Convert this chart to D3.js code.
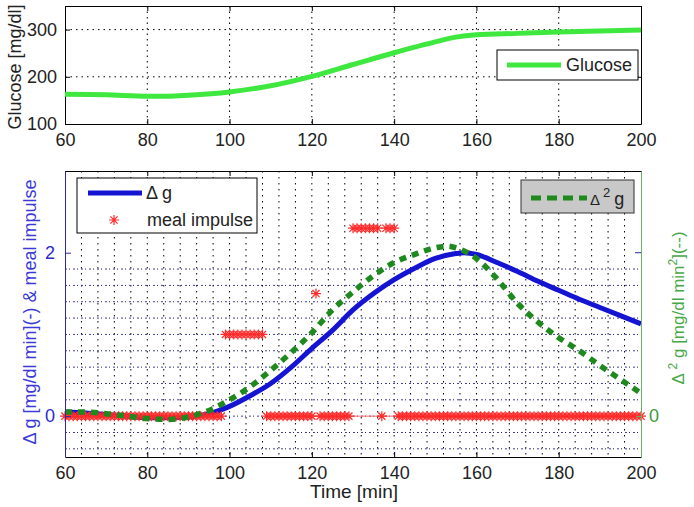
<!DOCTYPE html>
<html><head><meta charset="utf-8">
<script src="https://cdn.jsdelivr.net/npm/d3@7"></script>
<style>
html,body{margin:0;padding:0;background:#fff;}
svg{display:block;font-family:"Liberation Sans",Arial,Helvetica,sans-serif;}
</style></head>
<body>
<svg id="chart" width="694" height="507"></svg>
<script>
// ---- data ----
const glucoseTime  = [60,70,80,85,90,100,110,120,130,140,150,155,160,170,180,190,200];
const glucoseValue = [163,162,159,159,161,168,181,201,226,251,274,284,289,292,295,297,299];

const dgTime  = [60,65,70,75,80,85,90,95,100,105,110,115,120,125,130,135,140,145,150,155,157,160,165,170,175,180,185,190,195,200];
const dgValue = [0.05,0.04,0.02,0.0,-0.02,-0.02,-0.01,0.03,0.12,0.25,0.40,0.60,0.83,1.05,1.30,1.50,1.67,1.81,1.93,1.99,2.0,1.98,1.88,1.77,1.65,1.54,1.43,1.33,1.23,1.13];

const d2gTime  = [60,65,70,75,80,85,90,95,100,105,110,115,120,125,130,135,140,145,150,153,155,160,165,170,175,180,185,190,195,200];
const d2gValue = [0.05,0.05,0.03,0.0,-0.03,-0.04,-0.01,0.07,0.20,0.36,0.56,0.78,1.02,1.30,1.52,1.72,1.88,1.98,2.06,2.08,2.06,1.93,1.68,1.38,1.15,0.96,0.80,0.62,0.45,0.28];

// meal impulse: [from minute, to minute, value], one sample per minute
const mealSegments = [[60,98,0],[99,108,1.0],[109,120,0],[121,121,1.5],[122,129,0],[130,136,2.3],[137,137,0],[138,140,2.3],[141,200,0]];
// span of thin red zero trace
const mealTraceSpan = [120,200];

const xTicks = [60,80,100,120,140,160,180,200];
const topYTicks = [100,200,300];
const leftYTicks = [0,2];
const rightYTicks = [0];

// ---- build ----
const svg = d3.select("#chart");
const L = 65, R = 641;
const top1 = 6, bot1 = 124;
const top2 = 171, bot2 = 457;
const txt = "#222";
const fmt = d3.format("d");

const x = d3.scaleLinear().domain([60,200]).range([L,R]);
const yG = d3.scaleLinear().domain([100,350]).range([bot1,top1]);
const yB = d3.scaleLinear().domain([-0.5,3]).range([bot2,top2]);

// ===== TOP PLOT =====
const g1 = svg.append("g");
g1.selectAll(".vg").data(xTicks.filter(d=>d>60&&d<200)).join("line")
  .attr("x1",d=>x(d)).attr("x2",d=>x(d)).attr("y1",top1).attr("y2",bot1)
  .attr("stroke","#000").attr("stroke-width",1).attr("stroke-dasharray","1.5,4");
g1.selectAll(".hg").data([200,300]).join("line")
  .attr("x1",L).attr("x2",R).attr("y1",d=>yG(d)).attr("y2",d=>yG(d))
  .attr("stroke","#000").attr("stroke-width",1).attr("stroke-dasharray","1.5,4");
g1.append("g").attr("transform",`translate(0,${bot1})`)
  .call(d3.axisBottom(x).tickValues(xTicks).tickSizeInner(-5).tickSizeOuter(0).tickPadding(9).tickFormat(fmt))
  .call(a=>{a.select(".domain").attr("stroke","#000");a.selectAll("text").attr("font-size",18).attr("fill",txt);});
g1.append("g").attr("transform",`translate(0,${top1})`)
  .call(d3.axisTop(x).tickValues(xTicks).tickSizeInner(-5).tickSizeOuter(0).tickFormat(""))
  .call(a=>a.select(".domain").attr("stroke","#000"));
g1.append("g").attr("transform",`translate(${L},0)`)
  .call(d3.axisLeft(yG).tickValues(topYTicks).tickSizeInner(-5).tickSizeOuter(0).tickPadding(8).tickFormat(fmt))
  .call(a=>{a.select(".domain").attr("stroke","#000");a.selectAll("text").attr("font-size",18).attr("fill",txt);});
g1.append("g").attr("transform",`translate(${R},0)`)
  .call(d3.axisRight(yG).tickValues(topYTicks).tickSizeInner(-5).tickSizeOuter(0).tickFormat(""))
  .call(a=>a.select(".domain").attr("stroke","#000"));
g1.append("path").datum(glucoseTime.map((t,i)=>[t,glucoseValue[i]]))
  .attr("d",d3.line().x(d=>x(d[0])).y(d=>yG(d[1])).curve(d3.curveMonotoneX))
  .attr("fill","none").attr("stroke","#3ee83e").attr("stroke-width",5);
g1.append("text").attr("transform",`translate(21,${(top1+bot1)/2+2}) rotate(-90)`)
  .attr("text-anchor","middle").attr("font-size",18).attr("fill",txt).text("Glucose [mg/dl]");
const lg1 = g1.append("g");
lg1.append("rect").attr("x",497).attr("y",50).attr("width",141).attr("height",30).attr("fill","#fff").attr("stroke","#000");
lg1.append("line").attr("x1",507).attr("x2",561).attr("y1",65).attr("y2",65).attr("stroke","#3ee83e").attr("stroke-width",5);
lg1.append("text").attr("x",566).attr("y",71).attr("font-size",18).attr("fill",txt).text("Glucose");

// ===== BOTTOM PLOT =====
const g2 = svg.append("g");
const vgrid = d3.range(64,200,4);
g2.selectAll(".vg").data(vgrid).join("line")
  .attr("x1",d=>x(d)).attr("x2",d=>x(d)).attr("y1",top2).attr("y2",bot2)
  .attr("stroke","#000").attr("stroke-width",1).attr("stroke-dasharray","1.5,4.5");
const hgrid = d3.range(-0.4,1.81,0.2);
g2.selectAll(".hgb").data(hgrid).join("line")
  .attr("x1",L).attr("x2",R).attr("y1",d=>yB(d)).attr("y2",d=>yB(d))
  .attr("stroke","#3a3ab8").attr("stroke-width",1).attr("stroke-dasharray","2,6");
g2.selectAll(".hgk").data(hgrid).join("line")
  .attr("x1",L).attr("x2",R).attr("y1",d=>yB(d)).attr("y2",d=>yB(d))
  .attr("stroke","#222").attr("stroke-width",1).attr("stroke-dasharray","1,7").attr("stroke-dashoffset",-4);

g2.append("path").datum(dgTime.map((t,i)=>[t,dgValue[i]]))
  .attr("d",d3.line().x(d=>x(d[0])).y(d=>yB(d[1])).curve(d3.curveMonotoneX))
  .attr("fill","none").attr("stroke","#1414d2").attr("stroke-width",5);

const meal = [];
mealSegments.forEach(([a,b,v])=>{ for(let t=a;t<=b;t++) meal.push([t,v]); });
g2.append("line").attr("x1",x(mealTraceSpan[0])).attr("x2",x(mealTraceSpan[1])).attr("y1",yB(0)).attr("y2",yB(0))
  .attr("stroke","#ff6a6a").attr("stroke-width",1);
const star = r => { const k=r*0.72; return `M${-r},0L${r},0M0,${-r}L0,${r}M${-k},${-k}L${k},${k}M${-k},${k}L${k},${-k}`; };
g2.selectAll(".meal").data(meal).join("path")
  .attr("transform",d=>`translate(${x(d[0])},${yB(d[1])})`)
  .attr("d",star(5)).attr("fill","none").attr("stroke","#ff2a2a").attr("stroke-width",1.2);

g2.append("path").datum(d2gTime.map((t,i)=>[t,d2gValue[i]]))
  .attr("d",d3.line().x(d=>x(d[0])).y(d=>yB(d[1])).curve(d3.curveMonotoneX))
  .attr("fill","none").attr("stroke","#1e8a1e").attr("stroke-width",5.5).attr("stroke-dasharray","7,6");

g2.append("g").attr("transform",`translate(0,${bot2})`)
  .call(d3.axisBottom(x).tickValues(xTicks).tickSizeInner(-5).tickSizeOuter(0).tickPadding(9).tickFormat(fmt))
  .call(a=>{a.select(".domain").attr("stroke","#000");a.selectAll("text").attr("font-size",18).attr("fill",txt);});
g2.append("g").attr("transform",`translate(0,${top2})`)
  .call(d3.axisTop(x).tickValues(xTicks).tickSizeInner(-5).tickSizeOuter(0).tickFormat(""))
  .call(a=>a.select(".domain").attr("stroke","#000"));
g2.append("g").attr("transform",`translate(${L},0)`)
  .call(d3.axisLeft(yB).tickValues(leftYTicks).tickSizeInner(-6).tickSizeOuter(0).tickPadding(10).tickFormat(fmt))
  .call(a=>{a.select(".domain").attr("stroke","#2a2aa8");a.selectAll("line").attr("stroke","#2a2aa8");
            a.selectAll("text").attr("font-size",18).attr("fill","#2a2ad0");});
g2.append("g").attr("transform",`translate(${R},0)`)
  .call(d3.axisRight(yB).tickValues(rightYTicks).tickSizeInner(-5).tickSizeOuter(0).tickPadding(8).tickFormat(fmt))
  .call(a=>{a.select(".domain").attr("stroke","#6ab46a");a.selectAll("line").attr("stroke","#6ab46a");
            a.selectAll("text").attr("font-size",18).attr("fill","#3a9a3a");});
g2.append("line").attr("x1",R-6).attr("x2",R).attr("y1",yB(2)).attr("y2",yB(2)).attr("stroke","#2a2aa8");

svg.append("text").attr("x",(L+R)/2+1).attr("y",498).attr("text-anchor","middle").attr("font-size",19).attr("fill",txt).text("Time [min]");
svg.append("text").attr("transform",`translate(36,${(top2+bot2)/2-2}) rotate(-90)`)
  .attr("text-anchor","middle").attr("font-size",18).attr("fill","#3a3ad8").text("Δ g [mg/dl min](-) & meal impulse");
const rl = svg.append("text").attr("transform",`translate(684,${(top2+bot2)/2-6}) rotate(-90)`)
  .attr("text-anchor","middle").attr("font-size",17).attr("fill","#48a848");
rl.append("tspan").text("Δ ");
rl.append("tspan").attr("font-size",12).attr("dy",-7).text("2");
rl.append("tspan").attr("dy",7).text(" g [mg/dl min");
rl.append("tspan").attr("font-size",12).attr("dy",-7).text("2");
rl.append("tspan").attr("dy",7).text("](--)");

const lg2 = svg.append("g");
lg2.append("rect").attr("x",77).attr("y",178).attr("width",180).attr("height",55).attr("fill","#fff").attr("stroke","#000");
lg2.append("line").attr("x1",88).attr("x2",142).attr("y1",193).attr("y2",193).attr("stroke","#1414d2").attr("stroke-width",5);
lg2.append("text").attr("x",146).attr("y",199).attr("font-size",18).attr("fill",txt).text("Δ g");
lg2.append("path").attr("transform","translate(114,220)").attr("d",star(5)).attr("fill","none").attr("stroke","#ff2a2a").attr("stroke-width",1.2);
lg2.append("text").attr("x",147).attr("y",226).attr("font-size",18).attr("fill",txt).text("meal impulse");

const lg3 = svg.append("g");
lg3.append("rect").attr("x",521).attr("y",180).attr("width",113).attr("height",33).attr("fill","#c8c8c8").attr("stroke","#333");
lg3.append("line").attr("x1",531).attr("x2",587).attr("y1",198).attr("y2",198).attr("stroke","#1e8a1e").attr("stroke-width",5).attr("stroke-dasharray","10,6");
const lt = lg3.append("text").attr("x",590).attr("y",205).attr("font-size",18).attr("fill",txt);
lt.append("tspan").attr("font-size",15).text("Δ");
lt.append("tspan").attr("font-size",13).attr("dy",-8).attr("dx",3).text("2");
lt.append("tspan").attr("dy",8).attr("dx",4).text("g");
</script>
</body></html>
